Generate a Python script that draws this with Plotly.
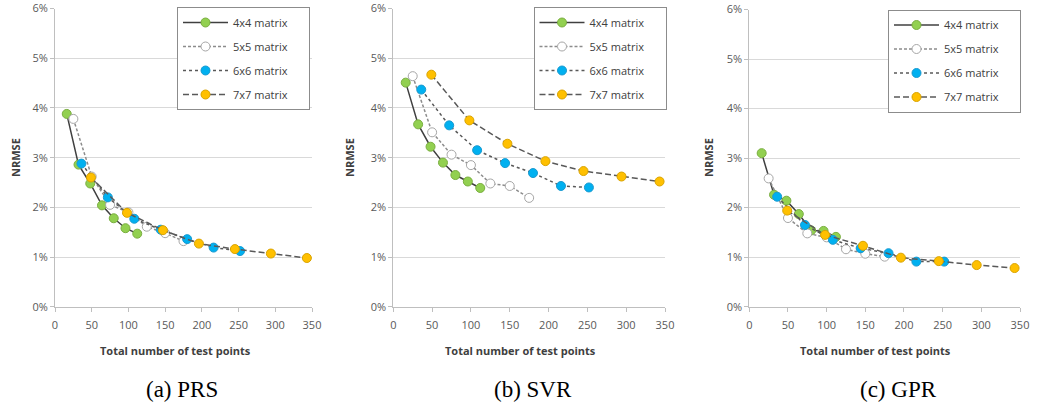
import plotly.graph_objects as go

# ---- data ----
x_4x4 = [16, 32, 48, 64, 80, 96, 112]
x_5x5 = [25, 50, 75, 100, 125, 150, 175]
x_6x6 = [36, 72, 108, 144, 180, 216, 252]
x_7x7 = [49, 98, 147, 196, 245, 294, 343]

prs_4x4 = [3.88, 2.86, 2.48, 2.04, 1.78, 1.58, 1.47]
prs_5x5 = [3.78, 2.62, 2.05, 1.90, 1.61, 1.48, 1.32]
prs_6x6 = [2.88, 2.20, 1.77, 1.55, 1.36, 1.19, 1.12]
prs_7x7 = [2.60, 1.89, 1.54, 1.27, 1.16, 1.07, 0.98]

svr_4x4 = [4.51, 3.67, 3.22, 2.90, 2.65, 2.52, 2.39]
svr_5x5 = [4.64, 3.51, 3.06, 2.85, 2.48, 2.43, 2.19]
svr_6x6 = [4.37, 3.65, 3.15, 2.89, 2.69, 2.43, 2.40]
svr_7x7 = [4.67, 3.75, 3.28, 2.93, 2.73, 2.62, 2.52]

gpr_4x4 = [3.10, 2.26, 2.14, 1.87, 1.54, 1.53, 1.41]
gpr_5x5 = [2.59, 1.79, 1.48, 1.40, 1.16, 1.07, 1.01]
gpr_6x6 = [2.22, 1.65, 1.35, 1.18, 1.08, 0.91, 0.91]
gpr_7x7 = [1.94, 1.45, 1.23, 0.99, 0.92, 0.84, 0.78]

series_names = ["4x4 matrix", "5x5 matrix", "6x6 matrix", "7x7 matrix"]
panel_titles = ["(a) PRS", "(b) SVR", "(c) GPR"]
x_title = "Total number of test points"
y_title = "NRMSE"

xs = [x_4x4, x_5x5, x_6x6, x_7x7]
panels = [
    [prs_4x4, prs_5x5, prs_6x6, prs_7x7],
    [svr_4x4, svr_5x5, svr_6x6, svr_7x7],
    [gpr_4x4, gpr_5x5, gpr_6x6, gpr_7x7],
]

# ---- styles ----
W, H = 1037, 409
fill = ["#92D050", "#FFFFFF", "#00B0F0", "#FFC000"]
edge = ["#7AAE40", "#A6A6A6", "#1A9AD0", "#D9A300"]
line_col = ["#404040", "#8C8C8C", "#595959", "#595959"]
dash = ["solid", "3px,2px", "dot", "6px,3px"]

# plot areas in pixels: (left, right, top, bottom)
areas = [(55, 312, 8.6, 306.7), (393.3, 665, 8.6, 306.7), (749.3, 1020, 9.5, 306.7)]
legend_pos = [(310, 7), (666.5, 7), (1021, 9.5)]
ytitle_x = [15, 349, 708]
xtitle_x = [175, 520, 875.5]
caption_x = [181.7, 533.3, 898.3]

FONT = "Open Sans"
fig = go.Figure()
annotations = []

for p in range(3):
    xa = "x" if p == 0 else f"x{p+1}"
    ya = "y" if p == 0 else f"y{p+1}"
    lg = "legend" if p == 0 else f"legend{p+1}"
    for s in range(4):
        fig.add_trace(go.Scatter(
            x=xs[s], y=panels[p][s], mode="lines+markers", name=series_names[s] + "\u2003\u2002",
            xaxis=xa, yaxis=ya, legend=lg, legendgroup=f"g{p}{s}",
            line=dict(color=line_col[s], width=1.5, dash=dash[s]),
            marker=dict(size=9, color=fill[s], line=dict(color=edge[s], width=1)),
        ))
    l, r, t, b = areas[p]
    dom_x = [l / W, r / W]
    dom_y = [1 - b / H, 1 - t / H]
    axis_common = dict(showline=True, linecolor="#BFBFBF", linewidth=1,
                       ticks="outside", ticklen=4, tickcolor="#BFBFBF",
                       tickfont=dict(family=FONT, size=11, color="#595959"),
                       zeroline=False, automargin=False)
    fig.update_layout(**{
        ("xaxis" if p == 0 else f"xaxis{p+1}"): dict(
            domain=dom_x, anchor=ya, range=[0, 350], tick0=0, dtick=50,
            showgrid=False, ticklabelstandoff=4, **axis_common),
        ("yaxis" if p == 0 else f"yaxis{p+1}"): dict(
            domain=dom_y, anchor=xa, range=[0, 6], tick0=0, dtick=1,
            ticksuffix="%", showgrid=True, gridcolor="#D9D9D9", gridwidth=1,
            **axis_common),
        lg: dict(
            x=legend_pos[p][0] / W, y=1 - legend_pos[p][1] / H,
            xanchor="right", yanchor="top", bgcolor="#FFFFFF",
            bordercolor="#8C8C8C", borderwidth=1, itemwidth=45,
            tracegroupgap=5, traceorder="grouped",
            font=dict(family=FONT, size=11, color="#404040")),
    })
    annotations.append(dict(text=f"<b>{y_title}</b>", x=ytitle_x[p] / W, y=1 - 158 / H,
                            xref="paper", yref="paper", showarrow=False, textangle=-90,
                            xanchor="center", yanchor="middle",
                            font=dict(family=FONT, size=11, color="#404040")))
    annotations.append(dict(text=f"<b>{x_title}</b>", x=xtitle_x[p] / W, y=1 - 350 / H,
                            xref="paper", yref="paper", showarrow=False,
                            xanchor="center", yanchor="middle",
                            font=dict(family=FONT, size=11, color="#404040")))
    annotations.append(dict(text=panel_titles[p], x=caption_x[p] / W, y=1 - 389 / H,
                            xref="paper", yref="paper", showarrow=False,
                            xanchor="center", yanchor="middle",
                            font=dict(family="Liberation Serif", size=23, color="#000000")))

fig.update_layout(width=W, height=H, margin=dict(l=0, r=0, t=0, b=0, autoexpand=False),
                  template="none",
                  paper_bgcolor="white", plot_bgcolor="white",
                  annotations=annotations, showlegend=True)
fig.write_html("out.html")
